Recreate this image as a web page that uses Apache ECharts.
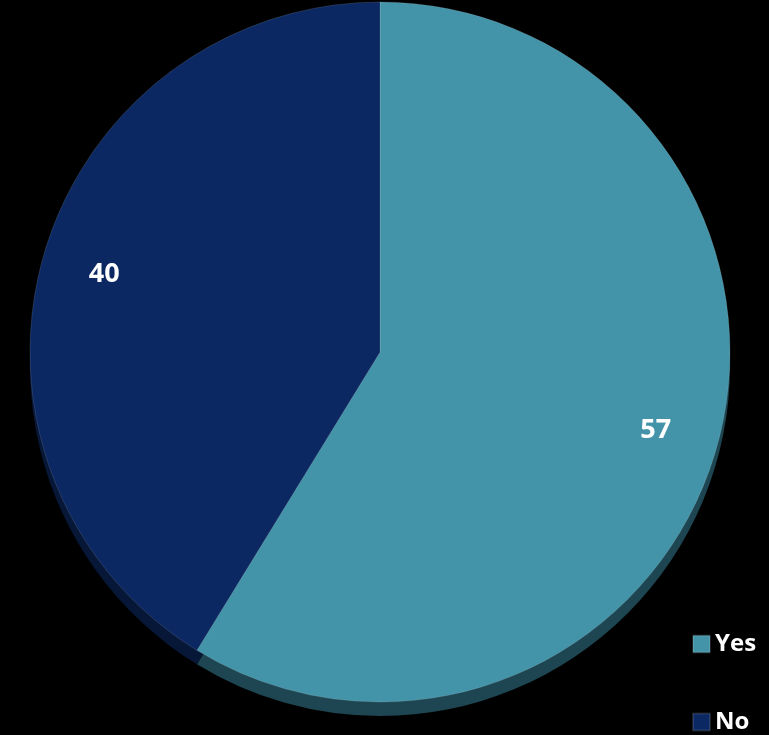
<!DOCTYPE html>
<html>
<head>
<meta charset="utf-8">
<script src="https://cdn.jsdelivr.net/npm/echarts@6/dist/echarts.min.js"></script>
<style>
  html, body { margin: 0; padding: 0; background: #000; }
  #chart { width: 769px; height: 735px; }
</style>
</head>
<body>
<div id="chart"></div>
<script>
// Survey answers
const categories = ['Yes', 'No'];
const counts = [57, 40];

const faceColors = ['#4494a9', '#0b2862'];
const sideColors = ['#1d4652', '#071737'];

const CX = 380, CY = 352, R = 350;

const faceData = categories.map((name, i) => ({
  name, value: counts[i], itemStyle: { color: faceColors[i] }
}));
const sideData = categories.map((name, i) => ({
  name: name + ' side', value: counts[i], itemStyle: { color: sideColors[i] }
}));
const labelData = categories.map((name, i) => ({
  name: name + ' label', value: counts[i]
}));

const chart = echarts.init(document.getElementById('chart'));
chart.setOption({
  backgroundColor: '#000',
  animation: false,
  legend: {
    data: categories,
    orient: 'vertical',
    left: 692,
    top: 632,
    padding: 0,
    itemWidth: 17,
    itemHeight: 17,
    itemGap: 54,
    icon: 'rect',
    textStyle: {
      color: '#fff',
      fontFamily: 'Open Sans',
      fontWeight: 'bold',
      fontSize: 24,
      lineHeight: 20
    }
  },
  series: [
    {
      // lower rim giving the disc some thickness
      type: 'pie',
      silent: true,
      center: [CX, CY + 14],
      radius: R,
      startAngle: 90,
      clockwise: true,
      label: { show: false },
      labelLine: { show: false },
      data: sideData,
      z: 1
    },
    {
      type: 'pie',
      center: [CX, CY],
      radius: R,
      startAngle: 90,
      clockwise: true,
      itemStyle: { borderColor: 'rgba(255,255,255,0.12)', borderWidth: 1 },
      label: { show: false },
      labelLine: { show: false },
      data: faceData,
      z: 2
    },
    {
      // transparent ring that carries the value labels toward the rim
      type: 'pie',
      silent: true,
      center: [CX, CY],
      radius: [R * 0.62, R],
      startAngle: 90,
      clockwise: true,
      itemStyle: { color: 'rgba(0,0,0,0)' },
      label: {
        show: true,
        position: 'inside',
        formatter: '{c}',
        color: '#fff',
        fontFamily: 'Open Sans',
        fontWeight: 'bold',
        fontSize: 27
      },
      labelLine: { show: false },
      data: labelData,
      z: 3
    }
  ]
});
</script>
</body>
</html>
